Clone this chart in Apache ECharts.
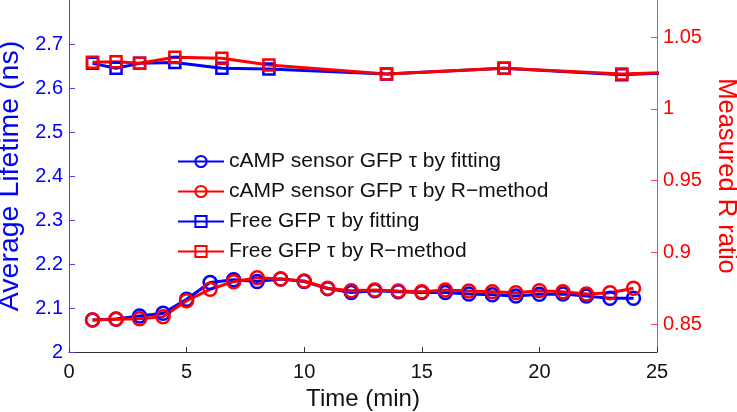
<!DOCTYPE html>
<html>
<head>
<meta charset="utf-8">
<script src="https://cdn.jsdelivr.net/npm/echarts@6/dist/echarts.min.js"></script>
<style>
  html, body { margin: 0; padding: 0; background: #fff; }
  #chart { width: 737px; height: 412px; }
</style>
</head>
<body>
<div id="chart"></div>
<script>
// time points (min)
const timeCamp = [1, 2, 3, 4, 5, 6, 7, 8, 9, 10, 11, 12, 13, 14, 15, 16, 17, 18, 19, 20, 21, 22, 23, 24]
const timeFree = [1, 2, 3, 4.5, 6.5, 8.5, 13.5, 18.5, 23.5, 28.5]

// cAMP sensor, lifetime by fitting (ns, left axis)
const campFit = [2.073, 2.075, 2.082, 2.088, 2.120, 2.158, 2.164, 2.160, 2.166, 2.160, 2.144, 2.135,
  2.139, 2.137, 2.135, 2.135, 2.132, 2.130, 2.127, 2.131, 2.132, 2.127, 2.122, 2.122]
// cAMP sensor, R ratio (right axis)
const campR = [0.8528, 0.8533, 0.8537, 0.8551, 0.8662, 0.8742, 0.8795, 0.8823, 0.8814, 0.8800, 0.8749, 0.8732,
  0.8737, 0.8730, 0.8725, 0.8737, 0.8730, 0.8725, 0.8718, 0.8732, 0.8725, 0.8709, 0.8718, 0.8749]
// free GFP
const freeFit = [2.656, 2.645, 2.656, 2.658, 2.645, 2.643, 2.632, 2.645, 2.630, 2.641]
const freeR = [1.0324, 1.0328, 1.0317, 1.0359, 1.0352, 1.0305, 1.0242, 1.0282, 1.0242, 1.0272]

const names = [
  'cAMP sensor GFP \u03c4 by fitting',
  'cAMP sensor GFP \u03c4 by R\u2212method',
  'Free GFP \u03c4 by fitting',
  'Free GFP \u03c4 by R\u2212method',
]

const BLUE = '#0000ff'
const RED = '#ff0000'
const FONT = 'Liberation Sans, Arial, Helvetica, sans-serif'

const pairs = (xs, ys) => xs.map((x, i) => [x, ys[i]])

function lineSeries(name, data, color, axis, symbol, size) {
  return {
    name: name,
    type: 'line',
    yAxisIndex: axis,
    data: data,
    symbol: symbol,
    symbolSize: size,
    showAllSymbol: true,
    clip: true,
    lineStyle: { color: color, width: 3 },
    itemStyle: { color: 'rgba(255,255,255,0)', borderColor: color, borderWidth: 2.5 },
    emphasis: { disabled: true },
  }
}

const myChart = echarts.init(document.getElementById('chart'))
myChart.setOption({
  animation: false,
  textStyle: { fontFamily: FONT },
  grid: { left: 69, right: 80, top: 0, bottom: 60, outerBoundsMode: 'none' },
  legend: {
    orient: 'vertical',
    left: 172,
    top: 146,
    itemWidth: 46,
    itemHeight: 14,
    itemGap: 9,
    textStyle: { fontSize: 21, color: '#111', fontFamily: FONT },
    data: names,
  },
  xAxis: {
    type: 'value',
    min: 0,
    max: 25,
    interval: 5,
    name: 'Time (min)',
    nameLocation: 'middle',
    nameGap: 31,
    nameTextStyle: { fontSize: 24, color: '#111' },
    axisLine: { lineStyle: { color: '#333', width: 1 } },
    axisTick: { inside: true, length: 5, lineStyle: { color: '#333' } },
    axisLabel: { fontSize: 20, color: '#111', margin: 10 },
    splitLine: { show: false },
  },
  yAxis: [
    {
      type: 'value',
      position: 'left',
      min: 2,
      max: 2.8,
      interval: 0.1,
      name: 'Average Lifetime (ns)',
      nameLocation: 'middle',
      nameRotate: 90,
      nameGap: 44,
      nameTextStyle: { fontSize: 28.5, color: BLUE },
      axisLine: { show: true, lineStyle: { color: '#4444ff', width: 1 } },
      axisTick: { show: true, inside: true, length: 6, lineStyle: { color: '#4444ff' } },
      axisLabel: { fontSize: 20, color: BLUE, margin: 6, showMaxLabel: false },
      splitLine: { show: false },
    },
    {
      type: 'value',
      position: 'right',
      min: 0.8305,
      max: 1.0758,
      splitNumber: 5,
      name: 'Measured R ratio',
      nameLocation: 'middle',
      nameRotate: -90,
      nameGap: 54,
      nameTextStyle: { fontSize: 25.5, color: RED },
      axisLine: { show: true, lineStyle: { color: '#ff4444', width: 1 } },
      axisTick: { show: true, inside: true, length: 6, lineStyle: { color: '#ff4444' } },
      axisLabel: { fontSize: 20, color: RED, margin: 6, showMinLabel: false, showMaxLabel: false },
      splitLine: { show: false },
    },
  ],
  series: [
    lineSeries(names[0], pairs(timeCamp, campFit), BLUE, 0, 'circle', 13),
    lineSeries(names[1], pairs(timeCamp, campR), RED, 1, 'circle', 13),
    lineSeries(names[2], pairs(timeFree, freeFit), BLUE, 0, 'rect', 11),
    lineSeries(names[3], pairs(timeFree, freeR), RED, 1, 'rect', 11),
  ],
})
</script>
</body>
</html>
